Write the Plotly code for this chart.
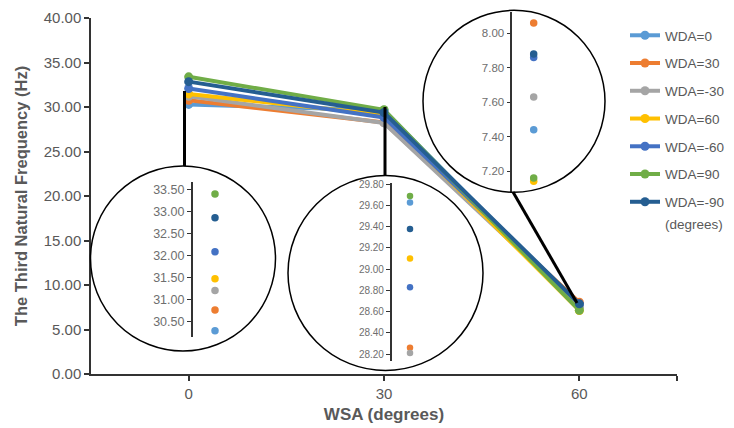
import plotly.graph_objects as go

# ---------------- data ----------------
WSA = [0, 30, 60]
series_names = ["WDA=0", "WDA=30", "WDA=-30", "WDA=60", "WDA=-60", "WDA=90", "WDA=-90"]
wda_0 = [30.29, 29.63, 7.44]
wda_30 = [30.76, 28.26, 8.06]
wda_m30 = [31.20, 28.21, 7.63]
wda_60 = [31.47, 29.10, 7.14]
wda_m60 = [32.08, 28.83, 7.86]
wda_90 = [33.39, 29.69, 7.16]
wda_m90 = [32.85, 29.38, 7.88]
series_values = [wda_0, wda_30, wda_m30, wda_60, wda_m60, wda_90, wda_m90]
colors = ["#5B9BD5", "#ED7D31", "#A5A5A5", "#FFC000", "#4472C4", "#70AD47", "#255E91"]

y_ticks = [0, 5, 10, 15, 20, 25, 30, 35, 40]
inset_ticks = [
    [30.5, 31.0, 31.5, 32.0, 32.5, 33.0, 33.5],
    [28.2, 28.4, 28.6, 28.8, 29.0, 29.2, 29.4, 29.6, 29.8],
    [7.2, 7.4, 7.6, 7.8, 8.0],
]

# ---------------- layout helpers (pixel -> paper) ----------------
W, H = 734, 428
ML, MR, MT, MB = 91, 57, 5, 54
PW = W - ML - MR
PH = H - MT - MB
def px(x):
    return (x - ML) / PW
def py(y):
    return (H - MB - y) / PH

FONT = "Liberation Sans, Arial, sans-serif"
GRAY = "#595959"
AXC = "#333333"

fig = go.Figure()

for name, vals, col in zip(series_names, series_values, colors):
    fig.add_trace(go.Scatter(
        x=WSA, y=vals, name=name, mode="lines+markers",
        line=dict(color=col, width=4),
        marker=dict(color=col, size=9),
        legendgroup=name,
        xaxis="x", yaxis="y",
    ))

# inset axes specs: (axis x px, point x px, top px, bottom px, range, font size, marker size)
inset_specs = [
    (192.7, 215.0, 181.7, 337.3, [30.14, 33.67], 12.5, 7.5),
    (391.7, 410.0, 183.3, 360.7, [28.137, 29.81], 10, 6.5),
    (512.3, 533.7, 12.3, 191.5, [7.081, 8.122], 11.5, 7.5),
]

layout_extra = {}
for i, (ax_x, pt_x, top, bot, rng, fs, ms) in enumerate(inset_specs):
    k = i + 2
    half = pt_x - ax_x
    layout_extra[f"xaxis{k}"] = dict(
        domain=[px(ax_x), px(ax_x + 2 * half)], range=[0, 1], visible=False,
        anchor=f"y{k}", fixedrange=True,
    )
    layout_extra[f"yaxis{k}"] = dict(
        domain=[py(bot), py(top)], range=rng, anchor=f"x{k}",
        showline=True, linecolor=AXC, linewidth=1.5,
        ticks="outside", ticklen=4, tickwidth=1.2, tickcolor=AXC,
        tickvals=inset_ticks[i], tickformat=".2f",
        tickfont=dict(family=FONT, size=fs, color="#6e6e6e"),
        showgrid=False, zeroline=False, fixedrange=True,
    )
    fig.add_trace(go.Scatter(
        x=[0.5] * len(series_values), y=[v[i] for v in series_values],
        mode="markers", marker=dict(color=colors, size=ms),
        showlegend=False, xaxis=f"x{k}", yaxis=f"y{k}", hoverinfo="y",
    ))

shapes = []
# zoom circles
for (cx, cy, r) in [(183, 258.5, 92.5), (385.5, 273, 97.5), (514, 101.3, 91)]:
    shapes.append(dict(type="circle", xref="paper", yref="paper",
                       x0=px(cx - r), x1=px(cx + r), y0=py(cy + r), y1=py(cy - r),
                       line=dict(color="black", width=1.5), layer="above"))
# connector lines
for (x0, y0, x1, y1) in [(184.5, 91, 184.5, 166), (385, 107, 385, 176), (513, 192, 577, 303)]:
    shapes.append(dict(type="line", xref="paper", yref="paper",
                       x0=px(x0), y0=py(y0), x1=px(x1), y1=py(y1),
                       line=dict(color="black", width=3), layer="above"))

fig.update_layout(
    width=W, height=H,
    margin=dict(l=ML, r=MR, t=MT, b=MB, autoexpand=False),
    plot_bgcolor="white", paper_bgcolor="white",
    font=dict(family=FONT, color=GRAY),
    xaxis=dict(
        range=[-15, 75], tickvals=[0, 30, 60, 75], ticktext=["0", "30", "60", ""],
        showline=True, linecolor=AXC, linewidth=1.5,
        ticks="outside", ticklen=5, tickwidth=1.5, tickcolor=AXC,
        tickfont=dict(size=15, color=GRAY),
        title=dict(text="<b>WSA (degrees)</b>", font=dict(size=17, color=GRAY), standoff=7),
        showgrid=False, zeroline=False, anchor="y",
    ),
    yaxis=dict(
        domain=[0, py(18)], range=[0, 40], tickvals=y_ticks, tickformat=".2f",
        showline=True, linecolor=AXC, linewidth=1.5,
        ticks="outside", ticklen=5, tickwidth=1.5, tickcolor=AXC,
        tickfont=dict(size=15, color=GRAY),
        title=dict(text="<b>The Third Natural Frequency (Hz)</b>", font=dict(size=16.5, color=GRAY), standoff=12),
        showgrid=False, zeroline=False, anchor="x",
    ),
    legend=dict(
        x=px(625), y=py(20), xanchor="left", yanchor="top",
        font=dict(size=13.5, color=GRAY), tracegroupgap=7.2,
        bgcolor="rgba(0,0,0,0)", traceorder="grouped",
    ),
    shapes=shapes,
    annotations=[dict(text="(degrees)", xref="paper", yref="paper",
                      x=px(694), y=py(224), xanchor="center", yanchor="middle",
                      showarrow=False, font=dict(size=13.5, color=GRAY))],
    showlegend=True,
    **layout_extra,
)

fig.write_html("out.html", config={"displayModeBar": False},
               post_script="document.body.style.margin='0px';")
